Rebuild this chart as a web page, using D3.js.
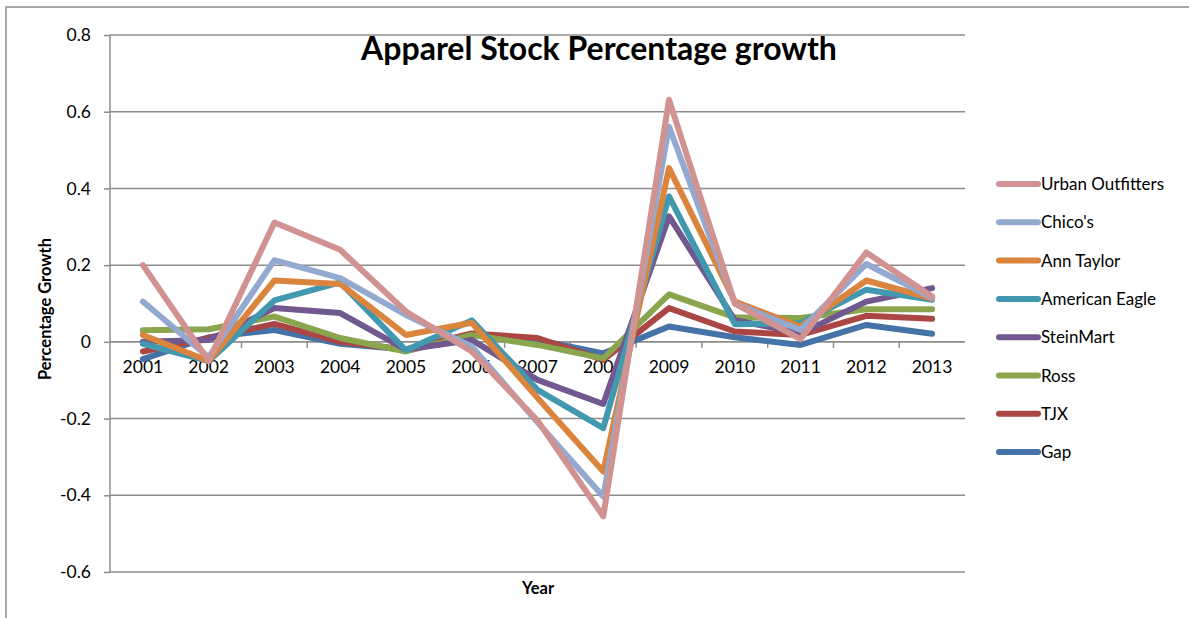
<!DOCTYPE html>
<meta charset="utf-8">
<html>
<head>
  <script src="https://d3js.org/d3.v7.min.js"></script>
  <style>
    body { margin: 0; background: #fff; font-family: Lato, "Open Sans", sans-serif; }
    .grid line { stroke: #8c8c8c; stroke-width: 1.5; }
    .axis path, .axis line { stroke: #8c8c8c; stroke-width: 1.5; }
    .axis text { font-family: Lato, sans-serif; font-size: 17.5px; fill: #000; }
  </style>
</head>
<body>
<script>
  // data
  var years = ["2001", "2002", "2003", "2004", "2005", "2006", "2007", "2008", "2009", "2010", "2011", "2012", "2013"];
  var yTicks = [-0.6, -0.4, -0.2, 0, 0.2, 0.4, 0.6, 0.8];

  var gap       = [-0.045, 0.012, 0.031, -0.005, -0.02, 0.02, 0.005, -0.03, 0.04, 0.012, -0.008, 0.044, 0.021];
  var tjx       = [-0.025, 0.01, 0.047, 0.0, -0.02, 0.022, 0.01, -0.047, 0.088, 0.027, 0.018, 0.068, 0.06];
  var ross      = [0.03, 0.033, 0.066, 0.01, -0.025, 0.018, -0.008, -0.043, 0.124, 0.064, 0.062, 0.085, 0.085];
  var steinMart = [0.0, 0.005, 0.088, 0.075, -0.02, 0.005, -0.099, -0.162, 0.327, 0.057, 0.022, 0.105, 0.14];
  var amEagle   = [-0.005, -0.05, 0.108, 0.155, -0.022, 0.056, -0.125, -0.225, 0.379, 0.046, 0.049, 0.136, 0.11];
  var annTaylor = [0.018, -0.05, 0.16, 0.151, 0.018, 0.05, -0.146, -0.338, 0.453, 0.105, 0.04, 0.16, 0.113];
  var chicos    = [0.105, -0.04, 0.213, 0.166, 0.07, -0.012, -0.21, -0.403, 0.561, 0.1, 0.031, 0.203, 0.115];
  var urban     = [0.2, -0.05, 0.311, 0.24, 0.079, -0.025, -0.205, -0.455, 0.631, 0.1, 0.007, 0.233, 0.118];

  // drawn in this order (Urban Outfitters on top), legend is reversed
  var series = [
    { name: "Gap", color: "#4572A7", values: gap },
    { name: "TJX", color: "#AA4643", values: tjx },
    { name: "Ross", color: "#89A54E", values: ross },
    { name: "SteinMart", color: "#71588F", values: steinMart },
    { name: "American Eagle", color: "#4198AF", values: amEagle },
    { name: "Ann Taylor", color: "#DB843D", values: annTaylor },
    { name: "Chico's", color: "#93A9CF", values: chicos },
    { name: "Urban Outfitters", color: "#D19392", values: urban }
  ];

  var W = 1189, H = 618;
  var plot = { left: 110, right: 965, top: 35, bottom: 572 };

  var svg = d3.select("body").append("svg")
    .attr("width", W)
    .attr("height", H);

  // outer chart border
  svg.append("rect")
    .attr("x", 6).attr("y", 7)
    .attr("width", W + 20).attr("height", H + 20)
    .attr("fill", "none")
    .attr("stroke", "#8c8c8c")
    .attr("stroke-width", 1.5);

  var x = d3.scaleBand().domain(years).range([plot.left, plot.right]);
  var y = d3.scaleLinear().domain([-0.6, 0.8]).range([plot.bottom, plot.top]);

  // horizontal gridlines
  svg.append("g").attr("class", "grid")
    .selectAll("line")
    .data(yTicks)
    .enter().append("line")
    .attr("x1", plot.left).attr("x2", plot.right)
    .attr("y1", function (d) { return y(d); })
    .attr("y2", function (d) { return y(d); });

  // y axis
  var yAxis = svg.append("g").attr("class", "axis")
    .attr("transform", "translate(" + plot.left + ",0)")
    .call(d3.axisLeft(y).tickValues(yTicks).tickSize(6).tickPadding(13)
      .tickFormat(function (d) { return d === 0 ? "0" : String(+d.toFixed(1)); }));
  yAxis.select(".domain").attr("d", "M0," + plot.top + "V" + plot.bottom);

  // x axis sits on the zero line, ticks between categories
  var xAxis = svg.append("g").attr("class", "axis")
    .attr("transform", "translate(0," + y(0) + ")");
  xAxis.append("line")
    .attr("x1", plot.left).attr("x2", plot.right);
  xAxis.selectAll(".tk")
    .data(years.slice(1))
    .enter().append("line")
    .attr("x1", function (d) { return x(d); })
    .attr("x2", function (d) { return x(d); })
    .attr("y1", 0).attr("y2", 6);
  xAxis.selectAll("text")
    .data(years)
    .enter().append("text")
    .attr("x", function (d) { return x(d) + x.bandwidth() / 2; })
    .attr("y", 31)
    .attr("text-anchor", "middle")
    .text(function (d) { return d; });

  // lines
  var line = d3.line()
    .x(function (d, i) { return x(years[i]) + x.bandwidth() / 2; })
    .y(function (d) { return y(d); });

  svg.append("g").selectAll("path")
    .data(series)
    .enter().append("path")
    .attr("d", function (s) { return line(s.values); })
    .attr("fill", "none")
    .attr("stroke", function (s) { return s.color; })
    .attr("stroke-width", 6)
    .attr("stroke-linejoin", "round")
    .attr("stroke-linecap", "round");

  // titles
  svg.append("text")
    .attr("x", 599).attr("y", 60)
    .attr("text-anchor", "middle")
    .style("font-family", "Lato, sans-serif")
    .style("font-weight", "bold")
    .style("font-size", "32px")
    .text("Apparel Stock Percentage growth");

  svg.append("text")
    .attr("transform", "translate(51,309) rotate(-90)")
    .attr("text-anchor", "middle")
    .style("font-family", "Lato, sans-serif")
    .style("font-weight", "bold")
    .style("font-size", "16.5px")
    .text("Percentage Growth");

  svg.append("text")
    .attr("x", 538).attr("y", 594)
    .attr("text-anchor", "middle")
    .style("font-family", "Lato, sans-serif")
    .style("font-weight", "bold")
    .style("font-size", "16.5px")
    .text("Year");

  // legend
  var legend = svg.append("g")
    .selectAll("g")
    .data(series.slice().reverse())
    .enter().append("g")
    .attr("transform", function (d, i) { return "translate(0," + (184 + i * 38.3) + ")"; });

  legend.append("line")
    .attr("x1", 999).attr("x2", 1038)
    .attr("stroke", function (d) { return d.color; })
    .attr("stroke-width", 6)
    .attr("stroke-linecap", "round");

  legend.append("text")
    .attr("x", 1041).attr("y", 6)
    .style("font-family", "Lato, sans-serif")
    .style("font-size", "17px")
    .text(function (d) { return d.name; });
</script>
</body>
</html>
